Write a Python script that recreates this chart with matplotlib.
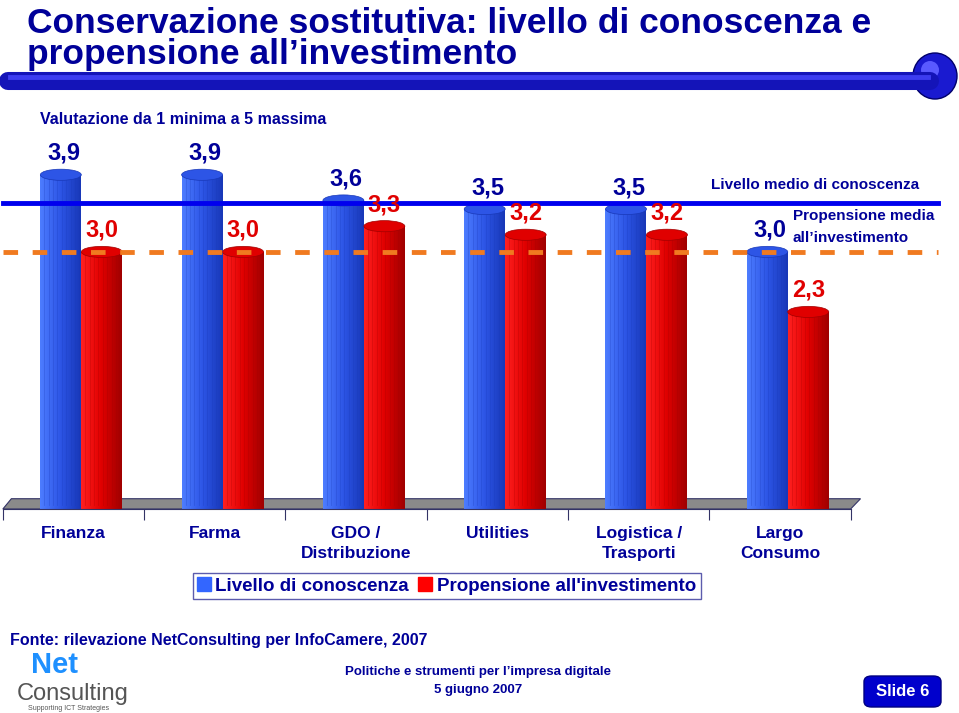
import matplotlib.pyplot as plt
import numpy as np
from matplotlib.patches import Ellipse, Polygon, FancyBboxPatch
from matplotlib.colors import LinearSegmentedColormap
from matplotlib.lines import Line2D

# data
categories = ['Finanza', 'Farma', 'GDO /\nDistribuzione', 'Utilities', 'Logistica /\nTrasporti', 'Largo\nConsumo']
conoscenza = [3.9, 3.9, 3.6, 3.5, 3.5, 3.0]
propensione = [3.0, 3.0, 3.3, 3.2, 3.2, 2.3]
media_conoscenza = 3.57
media_propensione = 3.0

plt.rcParams['font.family'] = ['Liberation Sans', 'DejaVu Sans']
navy = '#000099'
blue_c = ['#1f3fd0', '#4d7dff', '#2d55e6', '#1838b8']
red_c = ['#b00000', '#ff2020', '#e00000', '#a00000']

fig = plt.figure(figsize=(9.59, 7.13), dpi=100)
ax = fig.add_axes([0.003, 1 - 509/713, 0.884, 370/713])
ax.set_xlim(-0.5, 5.5)
ax.set_ylim(0, 370/85.7)

x = np.arange(len(categories))
w = 0.29
off_b, off_r = -0.09, 0.20

# grey floor
floor = Polygon([(-0.5, 0), (-0.44, 0.12), (5.57, 0.12), (5.5, 0)], closed=True,
                facecolor='#8a8a8a', edgecolor='#333366', lw=0.8, zorder=1, clip_on=False)
ax.add_patch(floor)

def cylinder(xc, h, cols):
    bar = ax.bar(xc, h, width=w, color=cols[2], zorder=2)[0]
    grad = np.linspace(0, 1, 64).reshape(1, -1)
    im = ax.imshow(grad, extent=[xc - w/2, xc + w/2, 0, h], aspect='auto',
                   cmap=LinearSegmentedColormap.from_list('g', [cols[1], cols[2], cols[3]]), zorder=2.5)
    im.set_clip_path(bar)
    # vertical streaks
    for k in np.linspace(-0.4, 0.45, 9):
        ax.plot([xc + k*w, xc + k*w], [0.05, h], color=cols[3], lw=0.5, alpha=0.35, zorder=2.6)
    ax.add_patch(Ellipse((xc, h), w, 0.13, facecolor=cols[2], edgecolor=cols[3], lw=0.5, zorder=3))

for i in range(len(categories)):
    cylinder(x[i] + off_b, conoscenza[i], blue_c)
    cylinder(x[i] + off_r, propensione[i], red_c)

for i in range(len(categories)):
    ax.text(x[i] + off_b + 0.02, conoscenza[i] + 0.25, f'{conoscenza[i]:.1f}'.replace('.', ','),
            ha='center', va='center', fontsize=17, fontweight='bold', color=navy, zorder=5)
    ax.text(x[i] + off_r, propensione[i] + 0.25, f'{propensione[i]:.1f}'.replace('.', ','),
            ha='center', va='center', fontsize=17, fontweight='bold', color='#e00000', zorder=5)

# average lines
ax.axhline(media_conoscenza, xmin=0, xmax=1.103, color='#0000ee', lw=3.5, clip_on=False, zorder=4)
ax.axhline(media_propensione, xmin=0, xmax=1.103, color='#f07a20', lw=3.5, ls=(0, (3, 3)),
           clip_on=False, zorder=4)
ax.text(5.25, 3.78, 'Livello medio di conoscenza', ha='center', va='center', fontsize=11,
        fontweight='bold', color=navy, clip_on=False)
ax.text(5.09, 3.42, 'Propensione media', ha='left', va='center', fontsize=11,
        fontweight='bold', color=navy, clip_on=False)
ax.text(5.09, 3.16, 'all\u2019investimento', ha='left', va='center', fontsize=11,
        fontweight='bold', color=navy, clip_on=False)

# axis styling
for s in ['top', 'left', 'right']:
    ax.spines[s].set_visible(False)
ax.spines['bottom'].set_color('#333366')
ax.set_yticks([])
ax.set_xticks(np.arange(-0.5, 6, 1))
ax.set_xticklabels([])
ax.tick_params(axis='x', length=8, color='#333366', direction='out')
for i, c in enumerate(categories):
    ax.text(x[i], -0.2, c, ha='center', va='top', fontsize=12.5, fontweight='bold',
            color=navy, linespacing=1.4, clip_on=False)

# legend
handles = [Line2D([], [], marker='s', ls='', color='#3366ff', markersize=10),
           Line2D([], [], marker='s', ls='', color='#ff0000', markersize=10)]
leg = fig.legend(handles, ['Livello di conoscenza', "Propensione all'investimento"],
                 loc='center', bbox_to_anchor=(447/959, 1 - 586/713), ncol=2, frameon=True,
                 fancybox=False, edgecolor='#333399', fontsize=13.5, handlelength=0.6,
                 handletextpad=0.3, columnspacing=0.6, borderpad=0.25)
for t in leg.get_texts():
    t.set_color(navy)
    t.set_fontweight('bold')

# title and header bar
fig.text(27/959, 1 - 33/713, 'Conservazione sostitutiva: livello di conoscenza e', fontsize=25.5,
         fontweight='bold', color=navy, va='baseline', ha='left')
fig.text(27/959, 1 - 64/713, 'propensione all\u2019investimento', fontsize=25.5,
         fontweight='bold', color=navy, va='baseline', ha='left')
fig.add_artist(Line2D([8/959, 930/959], [1 - 81/713, 1 - 81/713], color='#1414b8', lw=13,
                      solid_capstyle='round'))
fig.add_artist(Line2D([10/959, 928/959], [1 - 77/713, 1 - 77/713], color='#3c3cf0', lw=3.5))
fig.add_artist(Ellipse((935/959, 1 - 76/713), 44/959, 46/713, facecolor='#1a1ad0',
                       edgecolor='#00006a', lw=1))
fig.add_artist(Ellipse((930/959, 1 - 70/713), 18/959, 18/713, facecolor='#5a5aff',
                       edgecolor='none'))
fig.text(40/959, 1 - 119/713, 'Valutazione da 1 minima a 5 massima', fontsize=11.5,
         fontweight='bold', color=navy, va='center', ha='left')

# footer
fig.text(10/959, 1 - 641/713, 'Fonte: rilevazione NetConsulting per InfoCamere, 2007', fontsize=11.5,
         fontweight='bold', color=navy, va='center', ha='left')
fig.text(478/959, 1 - 672/713, 'Politiche e strumenti per l\u2019impresa digitale', fontsize=9.5,
         fontweight='bold', color=navy, va='center', ha='center')
fig.text(478/959, 1 - 690/713, '5 giugno 2007', fontsize=9.5,
         fontweight='bold', color=navy, va='center', ha='center')
fig.text(31/959, 1 - 673/713, 'Net', fontsize=21, fontweight='bold', color='#1e90ff',
         va='baseline', ha='left')
fig.text(17/959, 1 - 700/713, 'Consulting', fontsize=17, color='#555555',
         va='baseline', ha='left')
fig.text(28/959, 1 - 708/713, 'Supporting ICT Strategies', fontsize=5, color='#555555',
         va='center', ha='left')
fig.add_artist(FancyBboxPatch((864/959, 1 - 707/713), 77/959, 31/713,
                              boxstyle='round,pad=0,rounding_size=0.008',
                              facecolor='#0000cc', edgecolor='#000080', lw=1))
fig.text(903/959, 1 - 692/713, 'Slide 6', fontsize=12, fontweight='bold', color='white',
         va='center', ha='center')

fig.savefig('out.png', dpi=100)
